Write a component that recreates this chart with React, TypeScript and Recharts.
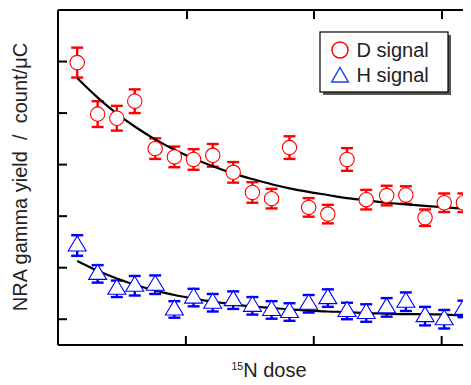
import { ComposedChart, Scatter, Line, XAxis, YAxis, ErrorBar, Customized } from "recharts";

// 15N dose (arbitrary units, axis ticks at 1, 2, 3)
const doses = [0.15, 0.31, 0.46, 0.6, 0.76, 0.91, 1.06, 1.21, 1.37, 1.52, 1.67, 1.81, 1.96, 2.11, 2.26, 2.41, 2.57, 2.72, 2.87, 3.02, 3.17];
const dSignal = [4.98, 3.98, 3.9, 4.23, 3.31, 3.15, 3.1, 3.18, 2.85, 2.46, 2.34, 3.33, 2.17, 2.04, 3.1, 2.32, 2.4, 2.41, 1.97, 2.26, 2.26];
const dError = [0.29, 0.25, 0.24, 0.23, 0.2, 0.2, 0.2, 0.22, 0.2, 0.2, 0.19, 0.22, 0.18, 0.18, 0.22, 0.19, 0.19, 0.17, 0.16, 0.18, 0.18];
const hSignal = [1.43, 0.88, 0.59, 0.65, 0.67, 0.19, 0.42, 0.32, 0.37, 0.26, 0.18, 0.14, 0.3, 0.41, 0.16, 0.12, 0.23, 0.34, 0.06, 0.0, 0.2];
const hError = [0.2, 0.17, 0.16, 0.19, 0.18, 0.16, 0.17, 0.17, 0.17, 0.17, 0.17, 0.17, 0.17, 0.17, 0.16, 0.17, 0.18, 0.18, 0.18, 0.18, 0.16];

// fitted decay curves
const fitDose = [0.15, 0.31, 0.46, 0.6, 0.76, 0.91, 1.06, 1.21, 1.37, 1.52, 1.67, 1.81, 1.96, 2.11, 2.26, 2.41, 2.57, 2.72, 2.87, 3.02, 3.17, 3.24];
const dFit = [4.68, 4.3, 3.99, 3.74, 3.49, 3.29, 3.12, 2.97, 2.83, 2.72, 2.62, 2.54, 2.47, 2.41, 2.35, 2.31, 2.26, 2.23, 2.2, 2.17, 2.15, 2.14];
const hFit = [1.13, 0.94, 0.79, 0.67, 0.56, 0.47, 0.4, 0.34, 0.29, 0.25, 0.22, 0.19, 0.17, 0.15, 0.14, 0.12, 0.11, 0.1, 0.1, 0.09, 0.08, 0.08];

const xTicks = [1, 2, 3];
const yTicks = [0, 1, 2, 3, 4, 5];

const X_MAX = 3.245;
const Y_MIN = -0.5;
const Y_MAX = 6;

// plot frame inside the svg (follows from the margins and axis sizes below)
const PLOT_L = 51;
const PLOT_R = 465;
const PLOT_T = 2;
const PLOT_B = 336;

const RED = "#ff0000";
const BLUE = "#0000ff";
const FONT = "'Liberation Sans', Arial, sans-serif";

const dData = doses.map((x, i) => ({ x, y: dSignal[i], err: dError[i] }));
const hData = doses.map((x, i) => ({ x, y: hSignal[i], err: hError[i] }));
const dFitData = fitDose.map((x, i) => ({ x, y: dFit[i] }));
const hFitData = fitDose.map((x, i) => ({ x, y: hFit[i] }));

const CircleMark = (p: any) => (
  <circle cx={p.cx} cy={p.cy} r={7.2} fill="#fff" stroke={RED} strokeWidth={1.1} />
);

const TriMark = (p: any) => (
  <polygon
    points={`${p.cx},${p.cy - 9.5} ${p.cx - 9},${p.cy + 5.5} ${p.cx + 9},${p.cy + 5.5}`}
    fill="#fff"
    stroke={BLUE}
    strokeWidth={1.1}
  />
);

// no tick labels, only the tick marks
const NoLabel = () => <g />;

const xPos = (t: number) => PLOT_L + (t / X_MAX) * (PLOT_R - PLOT_L);
const yPos = (t: number) => PLOT_B - ((t - Y_MIN) / (Y_MAX - Y_MIN)) * (PLOT_B - PLOT_T);

const Labels = () => (
  <g fontFamily={FONT} fill="#222">
    <text
      x={18.5}
      y={169}
      transform="rotate(-90, 18.5, 169)"
      textAnchor="middle"
      fontSize={20}
      style={{ whiteSpace: "pre" }}
    >
      {"NRA gamma yield  /  count/\u03bcC"}
    </text>
    <text x={223.5} y={368.7} fontSize={20}>
      <tspan fontSize={10.5} dy={-6.5}>15</tspan>
      <tspan dy={6.5}>N dose</tspan>
    </text>
    {/* legend */}
    <rect x={315} y={27} width={128} height={60} fill="#555" />
    <rect x={312} y={24} width={128} height={60} fill="#fff" stroke="#000" strokeWidth={1.2} />
    <circle cx={332} cy={42} r={8} fill="none" stroke={RED} strokeWidth={1.5} />
    <polygon points="332,59.5 323.7,74 340.3,74" fill="none" stroke="#1a45e0" strokeWidth={1.5} />
    <text x={348.5} y={49.3} fontSize={20}>D signal</text>
    <text x={348.5} y={73.7} fontSize={20}>H signal</text>
  </g>
);

const axisStroke = { stroke: "#000", strokeWidth: 2 };

export default function App() {
  return (
    <div style={{ position: "relative", width: 463, height: 377, overflow: "hidden", background: "#fff" }}>
      <ComposedChart
        width={472}
        height={377}
        margin={{ top: 1, right: 7, bottom: 40, left: 50 }}
        style={{ fontFamily: FONT }}
      >
        <XAxis
          dataKey="x"
          type="number"
          domain={[0, X_MAX]}
          ticks={xTicks}
          allowDataOverflow
          height={1}
          mirror
          tick={NoLabel}
          tickSize={9}
          tickLine={axisStroke}
          axisLine={axisStroke}
        />
        <XAxis
          xAxisId="top"
          dataKey="x"
          type="number"
          orientation="top"
          domain={[0, X_MAX]}
          allowDataOverflow
          height={1}
          tick={false}
          tickLine={false}
          axisLine={axisStroke}
        />
        <YAxis
          type="number"
          domain={[Y_MIN, Y_MAX]}
          ticks={yTicks}
          allowDataOverflow
          width={1}
          mirror
          tick={NoLabel}
          tickSize={9}
          tickLine={axisStroke}
          axisLine={axisStroke}
        />
        <Scatter data={dData} dataKey="y" shape={CircleMark} isAnimationActive={false}>
          <ErrorBar dataKey="err" direction="y" width={6} stroke={RED} strokeWidth={2.4} />
        </Scatter>
        <Scatter data={hData} dataKey="y" shape={TriMark} isAnimationActive={false}>
          <ErrorBar dataKey="err" direction="y" width={6} stroke={BLUE} strokeWidth={2.4} />
        </Scatter>
        <Line data={dFitData} dataKey="y" type="monotone" stroke="#000" strokeWidth={2.2} dot={false} isAnimationActive={false} />
        <Line data={hFitData} dataKey="y" type="monotone" stroke="#000" strokeWidth={2.2} dot={false} isAnimationActive={false} />
        <Customized component={Labels} />
      </ComposedChart>
      {/* inward ticks on the top and right frame */}
      {xTicks.map((t) => (
        <div
          key={`tx${t}`}
          style={{ position: "absolute", left: xPos(t) - 1, top: PLOT_T, width: 2, height: 9, background: "#000" }}
        />
      ))}
      {yTicks.map((t) => (
        <div
          key={`ty${t}`}
          style={{ position: "absolute", left: PLOT_R - 7, top: yPos(t) - 1, width: 7, height: 2, background: "#000" }}
        />
      ))}
    </div>
  );
}
